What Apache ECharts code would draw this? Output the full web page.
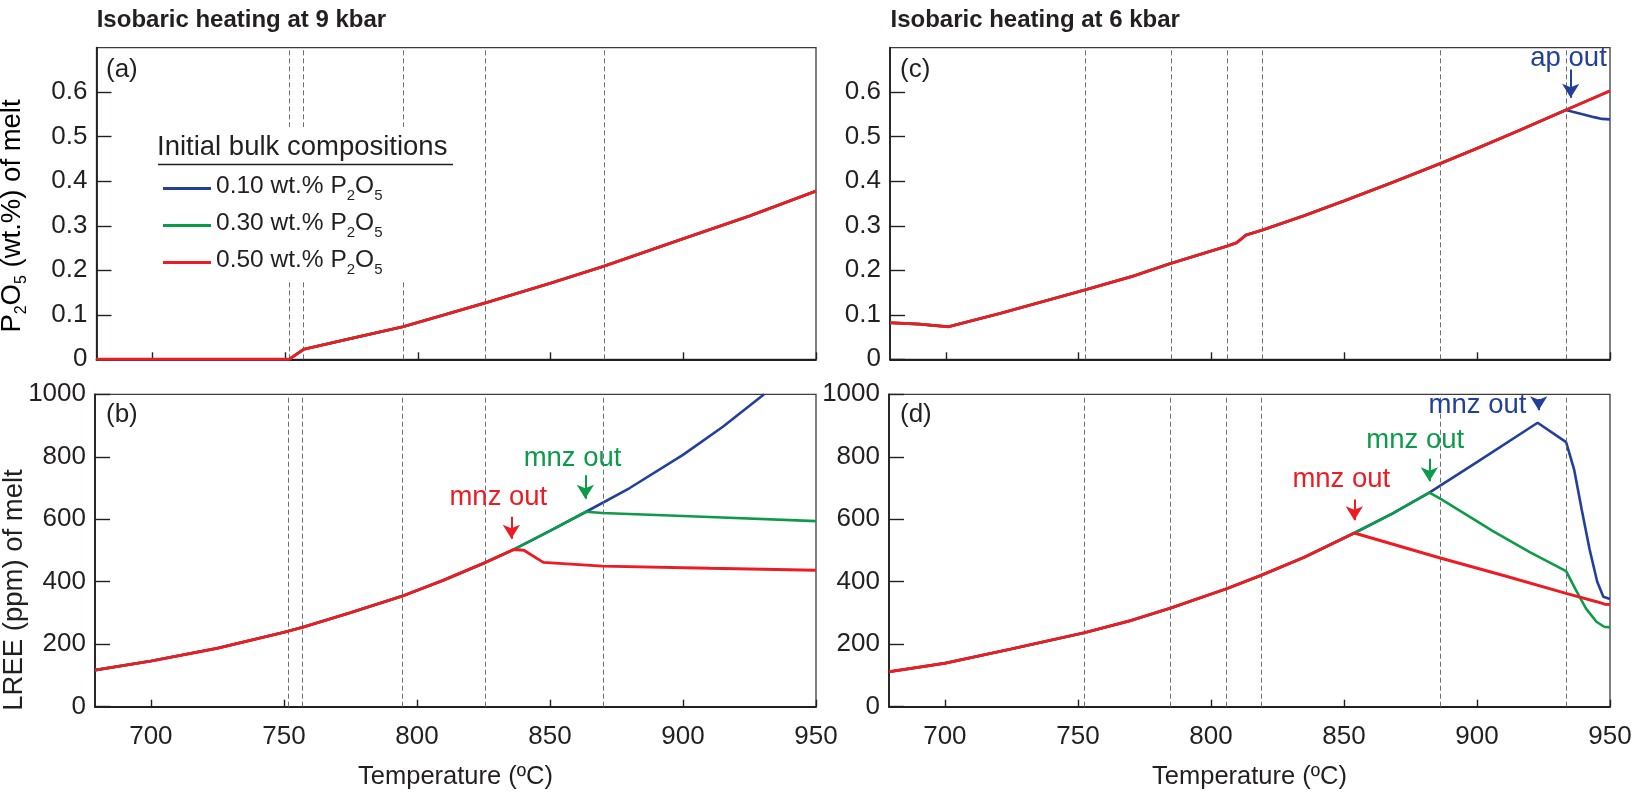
<!DOCTYPE html>
<html><head><meta charset="utf-8">
<script src="https://cdn.jsdelivr.net/npm/echarts@6/dist/echarts.min.js"></script>
<style>html,body{margin:0;padding:0;background:#fff}#c{width:1632px;height:793px}</style>
</head><body><div id="c"></div>
<script>
// ---------- data ----------
const tempTicks = [700, 750, 800, 850, 900, 950];
const p2o5Ticks = [0, 0.1, 0.2, 0.3, 0.4, 0.5, 0.6];
const lreeTicks = [0, 200, 400, 600, 800, 1000];
const seriesNames = ['0.10 wt.% P2O5', '0.30 wt.% P2O5', '0.50 wt.% P2O5'];
const guides9kbar = [751.6, 756.9, 794.5, 825.6, 870.1];
const guides6kbar = [752.5, 784.7, 805.9, 819.0, 886.2, 933.4];

// (a) P2O5 of melt, 9 kbar (all three compositions coincide)
const a_p2o5 = [[679,0],[751.6,0],[757,0.0224],[775,0.047],[794.5,0.0733],[810,0.100],[825.6,0.127],[850,0.171],[870,0.209],[900,0.271],[925,0.322],[950,0.378]];
const a_blue = a_p2o5, a_green = a_p2o5, a_red = a_p2o5;

// (b) LREE of melt, 9 kbar
const b_common = [[679,117],[700,146],[725,187],[750,238],[757,254],[775,301],[794.5,354],[810,405],[825.6,461],[836.3,503]];
const b_red   = b_common.concat([[840.2,501],[847.5,462],[869.7,450],[910,443],[950,437]]);
const b_green = b_common.concat([[850,563],[863.6,624],[869.7,620],[910,607],[950,594]]);
const b_blue  = b_common.concat([[850,563],[863.6,624],[880,700],[900,806],[915,896],[930.5,1000]]);

// (c) P2O5 of melt, 6 kbar
const c_red = [[679,0.082],[690,0.079],[700.9,0.073],[720.4,0.103],[752.5,0.156],[770,0.186],[784.5,0.215],[805.8,0.254],[809.5,0.262],[813,0.279],[819,0.290],[835,0.323],[850,0.356],[868,0.397],[886.2,0.440],[900,0.474],[915,0.512],[933.4,0.560],[950,0.603]];
const c_green = c_red;
const c_blue = c_red.slice(0, 18).concat([[936,0.556],[940,0.550],[944,0.544],[947,0.540],[950,0.539]]);

// (d) LREE of melt, 6 kbar
const d_common = [[679,112],[700,139],[725,185],[752.5,237],[770,276],[785,316],[806,378],[819,421],[835,478],[853.9,556]];
const d_red   = d_common.concat([[886.2,476],[910,420],[933.5,363],[945,336],[948,328],[950,327]]);
const d_green = d_common.concat([[868,617],[882.1,685],[886.2,666],[906,562],[920,494],[933.5,434],[937.2,373],[941,314],[944.9,272],[947.8,256],[950,254]]);
const d_blue  = d_common.concat([[868,617],[882.1,685],[900,783],[922.8,909],[933.5,847],[936.5,760],[939.4,630],[942.3,505],[945.2,400],[947.5,352],[950,345]]);

// annotations (data coordinates)
const notesB = [
  {text:'mnz out', c:'red',   at:[830.6,669], from:[835.5,608], to:[835.5,538]},
  {text:'mnz out', c:'green', at:[858.5,795], from:[863.3,741], to:[863.3,666]}
];
const notesC = [
  {text:'ap out', c:'blue', at:[934.4,0.675], from:[935.2,0.651], to:[935.2,0.5875]}
];
const notesD = [
  {text:'mnz out', c:'red',   at:[849,726],   from:[853.9,663], to:[853.9,597]},
  {text:'mnz out', c:'green', at:[876.8,851], from:[882.1,794], to:[882.1,722]},
  {text:'mnz out', c:'blue',  at:[900.2,963], from:[923.2,985], to:[923.2,949]}
];

// ---------- style ----------
const FONT = "'Liberation Sans', Arial, Helvetica, sans-serif";
const COL = {blue:'#22409a', green:'#0c9b48', red:'#ed1c24'};
const INK = '#231f20';

const grids = [
  {left:96.5, top:47.7, width:719.5, height:311.6},
  {left:95,   top:394.3, width:721, height:312.4},
  {left:890,  top:47.7, width:720, height:311.6},
  {left:889,  top:394.3, width:721, height:312.4}
].map(g => Object.assign(g, {show:true, borderColor:'#3c3c3c', borderWidth:1.3, outerBoundsMode:'none'}));

const xAxes = [0,1,2,3].map(i => ({
  type:'value', gridIndex:i, min:679, max:950,
  axisLine:{show:true, onZero:false, lineStyle:{color:INK, width:1.8}},
  axisTick:{show:true, inside:true, length:7, customValues:tempTicks, lineStyle:{color:INK, width:1.4}},
  axisLabel:{show:(i===1||i===3), customValues:tempTicks, fontSize:26, color:INK, fontFamily:FONT, margin:17},
  splitLine:{show:false},
  name:(i===1||i===3)?'Temperature (ºC)':'', nameLocation:'middle', nameGap:57,
  nameTextStyle:{fontSize:25.5, color:INK, fontFamily:FONT}
}));
const yAxes = [0,1,2,3].map(i => {
  const isP = (i % 2 === 0);
  const ticks = isP ? p2o5Ticks : lreeTicks;
  return {
    type:'value', gridIndex:i, min:0, max:isP ? 0.7 : 1000,
    axisLine:{show:true, onZero:false, lineStyle:{color:INK, width:1.8}},
    axisTick:{show:true, inside:true, length:15, customValues:ticks, lineStyle:{color:INK, width:1.4}},
    axisLabel:{customValues:ticks, fontSize:26, color:INK, fontFamily:FONT, margin:9,
      formatter: v => isP ? (v === 0 ? '0' : v.toFixed(1)) : String(v)},
    splitLine:{show:false}
  };
});

function line(name, color, data, gi, z, w) {
  return {type:'line', name, data, xAxisIndex:gi, yAxisIndex:gi, symbol:'none', showSymbol:false,
    lineStyle:{color, width:w}, itemStyle:{color}, z, animation:false, clip:true, silent:true};
}
function guides(vals, gi) {
  return {type:'line', data:[], xAxisIndex:gi, yAxisIndex:gi, z:1, silent:true, animation:false,
    markLine:{silent:true, animation:false, symbol:['none','none'], label:{show:false},
      lineStyle:{color:'#6f6f6f', width:1, type:[5,3]},
      data: vals.map(v => ({xAxis:v}))}};
}
function notes(list, gi) {
  return {type:'line', data:[], xAxisIndex:gi, yAxisIndex:gi, z:6, silent:true, animation:false,
    markPoint:{silent:true, animation:false,
      data: list.map(n => ({coord:n.at, symbol:'rect', symbolSize:1, itemStyle:{color:'rgba(0,0,0,0)'},
        label:{show:true, position:'inside', formatter:n.text, color:COL[n.c], fontSize:27.5, fontFamily:FONT}}))},
    markLine:{silent:true, animation:false, symbol:['none','arrow'], symbolSize:[13,14], label:{show:false},
      data: list.map(n => [{coord:n.from, lineStyle:{color:COL[n.c], width:2, type:'solid'}}, {coord:n.to}])}};
}

const series = [
  guides(guides9kbar,0), guides(guides9kbar,1), guides(guides6kbar,2), guides(guides6kbar,3),
  line(seriesNames[0], COL.blue, a_blue, 0, 3, 2.6), line(seriesNames[1], COL.green, a_green, 0, 4, 2.6), line(seriesNames[2], COL.red, a_red, 0, 5, 2.9),
  line(seriesNames[0], COL.blue, b_blue, 1, 3, 2.6), line(seriesNames[1], COL.green, b_green, 1, 4, 2.6), line(seriesNames[2], COL.red, b_red, 1, 5, 2.9),
  line(seriesNames[0], COL.blue, c_blue, 2, 3, 2.6), line(seriesNames[1], COL.green, c_green, 2, 4, 2.6), line(seriesNames[2], COL.red, c_red, 2, 5, 2.9),
  line(seriesNames[0], COL.blue, d_blue, 3, 3, 2.6), line(seriesNames[1], COL.green, d_green, 3, 4, 2.6), line(seriesNames[2], COL.red, d_red, 3, 5, 2.9),
  notes(notesB,1), notes(notesC,2), notes(notesD,3)
];

const subLeg = {n:{fontSize:24.5, lineHeight:29, verticalAlign:'top', color:INK, fontFamily:FONT},
                s:{fontSize:15, lineHeight:15, padding:[17,0,0,0], verticalAlign:'bottom', color:INK, fontFamily:FONT}};
const subAx  = {n:{fontSize:27.5, lineHeight:32, verticalAlign:'top', color:INK, fontFamily:FONT},
                s:{fontSize:16, lineHeight:16, padding:[18,0,0,0], verticalAlign:'bottom', color:INK, fontFamily:FONT}};

const graphic = [
  {type:'text', left:96.7, top:8, z:10, style:{text:'Isobaric heating at 9 kbar', fontSize:24, fontWeight:'bold', fill:INK, fontFamily:FONT}},
  {type:'text', left:890.5, top:8, z:10, style:{text:'Isobaric heating at 6 kbar', fontSize:24, fontWeight:'bold', fill:INK, fontFamily:FONT}},
  {type:'text', x:106, y:70, z:10, style:{text:'(a)', fontSize:26, fill:INK, fontFamily:FONT, verticalAlign:'middle'}},
  {type:'text', x:106, y:415, z:10, style:{text:'(b)', fontSize:26, fill:INK, fontFamily:FONT, verticalAlign:'middle'}},
  {type:'text', x:900, y:70, z:10, style:{text:'(c)', fontSize:26, fill:INK, fontFamily:FONT, verticalAlign:'middle'}},
  {type:'text', x:900, y:415, z:10, style:{text:'(d)', fontSize:26, fill:INK, fontFamily:FONT, verticalAlign:'middle'}},
  {type:'rect', shape:{x:148, y:127, width:314, height:153}, z:8, style:{fill:'#fff'}},
  {type:'text', x:157, y:147, z:10, style:{text:'Initial bulk compositions', fontSize:27.5, fill:INK, fontFamily:FONT, verticalAlign:'middle'}},
  {type:'line', shape:{x1:158, y1:164.5, x2:453, y2:164.5}, z:10, style:{stroke:INK, lineWidth:1.5}},
  {type:'text', x:14, y:216, rotation:Math.PI/2, z:10, style:{text:'{n|P}{s|2}{n|O}{s|5}{n| (wt.%) of melt}', rich:subAx, align:'center', verticalAlign:'middle'}},
  {type:'text', x:14, y:590, rotation:Math.PI/2, z:10, style:{text:'LREE (ppm) of melt', fontSize:27.5, fill:INK, fontFamily:FONT, align:'center', verticalAlign:'middle'}}
];

const chart = echarts.init(document.getElementById('c'), null, {renderer:'canvas'});
chart.setOption({
  animation:false,
  backgroundColor:'#fff',
  grid:grids, xAxis:xAxes, yAxis:yAxes, series,
  legend:{show:true, data:seriesNames, orient:'vertical', left:158, top:166, itemWidth:48, itemHeight:3, itemGap:5,
    icon:'rect', z:12, selectedMode:false,
    formatter: nm => '{n|' + nm.replace(' P2O5','') + ' P}{s|2}{n|O}{s|5}',
    textStyle:{rich:subLeg, fontSize:24.5, color:INK, fontFamily:FONT}},
  graphic
});
</script></body></html>
